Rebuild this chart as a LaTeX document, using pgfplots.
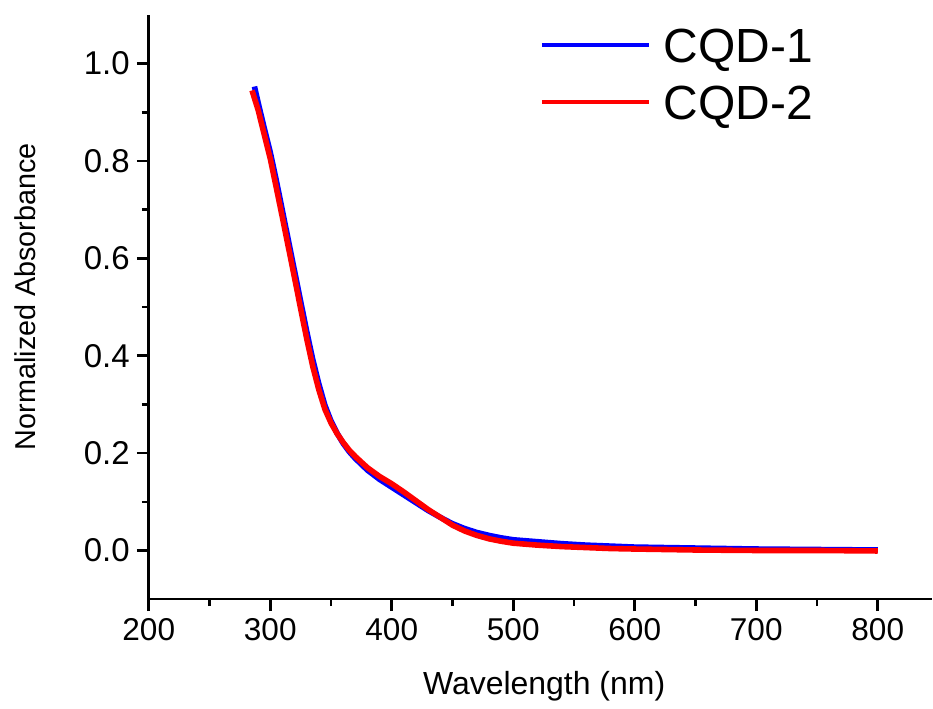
\documentclass[border=0pt]{standalone}
\usepackage{fontspec}
\setmainfont{Liberation Sans}
\usepackage{pgfplots}
\pgfplotsset{compat=1.18}
\begin{document}
\begin{tikzpicture}
\begin{axis}[
 scale only axis, width=392pt, height=292.5pt,
 xmin=200, xmax=844.4, ymin=-0.1, ymax=1.1,
 axis x line*=bottom, axis y line*=left,
 axis line style={line width=1.3pt},
 tick style={line width=1.3pt, black},
 tick align=outside,
 major tick length=6pt, minor tick length=3.5pt,
 xtick={200,300,400,500,600,700,800}, minor x tick num=1,
 ytick={0,0.2,0.4,0.6,0.8,1.0}, minor y tick num=1,
 yticklabel style={font=\fontsize{16.5}{19}\selectfont, /pgf/number format/fixed, /pgf/number format/fixed zerofill, /pgf/number format/precision=1},
 /pgf/number format/assume math mode=true,
 xticklabel style={font=\fontsize{15.8}{18}\selectfont},
 xlabel={Wavelength (nm)}, ylabel={Normalized Absorbance},
 xlabel style={font=\fontsize{16}{19}\selectfont, at={(axis description cs:0.505,-0.1487)}, anchor=center},
 ylabel style={font=\fontsize{14.4}{17}\selectfont, at={(axis description cs:-0.158,0.518)}, anchor=center, rotate=0},
 clip=false,
 legend style={draw=none, fill=none, at={(0.499,0.9795)}, anchor=north west,
   font=\fontsize{24}{28}\selectfont, row sep=11pt, inner sep=0pt,
   nodes={inner sep=0pt, text height=17.5pt, text depth=0pt}},
 legend cell align=left,
 legend image code/.code={\draw[#1, line width=2pt] (0pt,0pt) -- (53.5pt,0pt);},
 /tikz/every odd column/.append style={column sep=6.5pt},
]
\path (rel axis cs:-0.190,-0.1863) rectangle (rel axis cs:1,1.0256);
\addplot[color={rgb,255:red,0;green,0;blue,255}, line width=2.8pt, line join=round] coordinates {
(287,0.953)(290,0.920)(295,0.868)(300,0.818)(305,0.760)(310,0.698)(315,0.636)(320,0.574)(325,0.512)(330,0.450)(335,0.392)(340,0.342)(345,0.298)(350,0.266)(355,0.241)(360,0.220)(365,0.203)(370,0.189)(380,0.165)(390,0.146)(400,0.130)(410,0.114)(420,0.098)(430,0.082)(440,0.068)(450,0.055)(460,0.045)(470,0.037)(480,0.031)(490,0.026)(500,0.022)(520,0.018)(540,0.014)(560,0.011)(580,0.009)(600,0.007)(650,0.005)(700,0.003)(750,0.002)(800,0.001)
};
\addlegendentry{CQD-1}
\addplot[color={rgb,255:red,255;green,0;blue,0}, line width=2.8pt, line join=round] coordinates {
(285,0.945)(290,0.905)(295,0.855)(300,0.805)(305,0.745)(310,0.684)(315,0.622)(320,0.560)(325,0.497)(330,0.435)(335,0.378)(340,0.330)(345,0.290)(350,0.262)(355,0.240)(360,0.222)(365,0.206)(370,0.193)(380,0.170)(390,0.152)(400,0.137)(410,0.120)(420,0.102)(430,0.084)(440,0.068)(450,0.052)(460,0.040)(470,0.031)(480,0.024)(490,0.019)(500,0.015)(520,0.011)(540,0.008)(560,0.006)(580,0.004)(600,0.003)(650,0.001)(700,0.000)(750,0.000)(800,-0.001)
};
\addlegendentry{CQD-2}
\end{axis}
\end{tikzpicture}
\end{document}
